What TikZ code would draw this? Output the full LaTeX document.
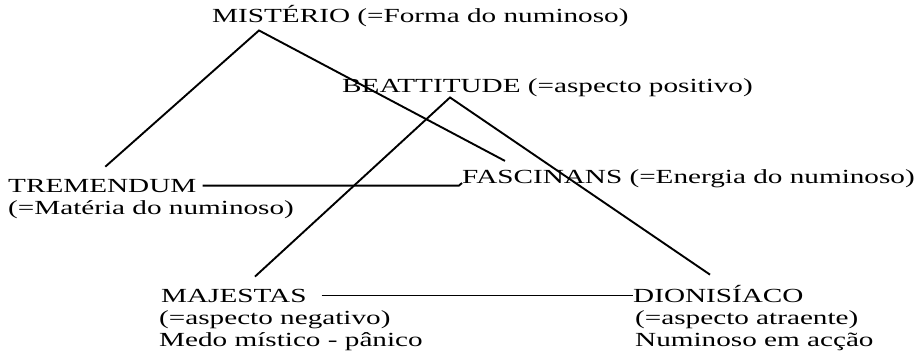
\documentclass[tikz,border=0pt]{standalone}
\usepackage{fontspec}
\setmainfont{Liberation Serif}[FakeStretch=1.46]
\tikzset{
  lbl/.style={
    inner sep=0pt,
    anchor=base west,
    font=\fontsize{20}{22}\selectfont
  },
  link/.style={line width=1.9pt}
}

\begin{document}
\begin{tikzpicture}[x=1pt,y=-1pt]
    \useasboundingbox (0,0) rectangle (918,351);
    \node (misterio) [lbl] at (212,22) {MISTÉRIO (=Forma do numinoso)};
    \node (beatitude) [lbl] at (342,92) {BEATTITUDE (=aspecto positivo)};
    \node (tremendum) [lbl] at (8,192) {TREMENDUM};
    \node (tremendumsub) [lbl] at (8,214) {(=Matéria do numinoso)};
    \node (fascinans) [lbl] at (462,183) {FASCINANS (=Energia do numinoso)};
    \node (majestas) [lbl] at (161,302) {MAJESTAS};
    \node (majestassub) [lbl] at (159,324) {(=aspecto negativo)};
    \node (majestasnote) [lbl] at (159,346) {Medo místico - pânico};
    \node (dionisiaco) [lbl] at (633,302) {DIONISÍACO};
    \node (dionisiacosub) [lbl] at (635,324) {(=aspecto atraente)};
    \node (dionisiaconote) [lbl] at (635,346) {Numinoso em acção};
    % ligações
    \draw[link] ([xshift=3pt,yshift=12pt]tremendum.north)
      -- ([xshift=47pt,yshift=-4pt]misterio.south west)
      -- ([xshift=43pt,yshift=8pt]fascinans.north west);
    \draw[link] ([xshift=94pt,yshift=12pt]majestas.north west)
      -- ([xshift=108pt,yshift=-1pt]beatitude.south west)
      -- ([xshift=77pt,yshift=10pt]dionisiaco.north west);
    \draw[link] ([xshift=6pt]tremendum.east)
      -- ([xshift=-3pt]tremendum.east -| fascinans.base west)
      -- (fascinans.base west);
    \draw[link] ([xshift=15pt]majestas.east) -- (majestas.east -| dionisiaco.west);
\end{tikzpicture}
\end{document}
